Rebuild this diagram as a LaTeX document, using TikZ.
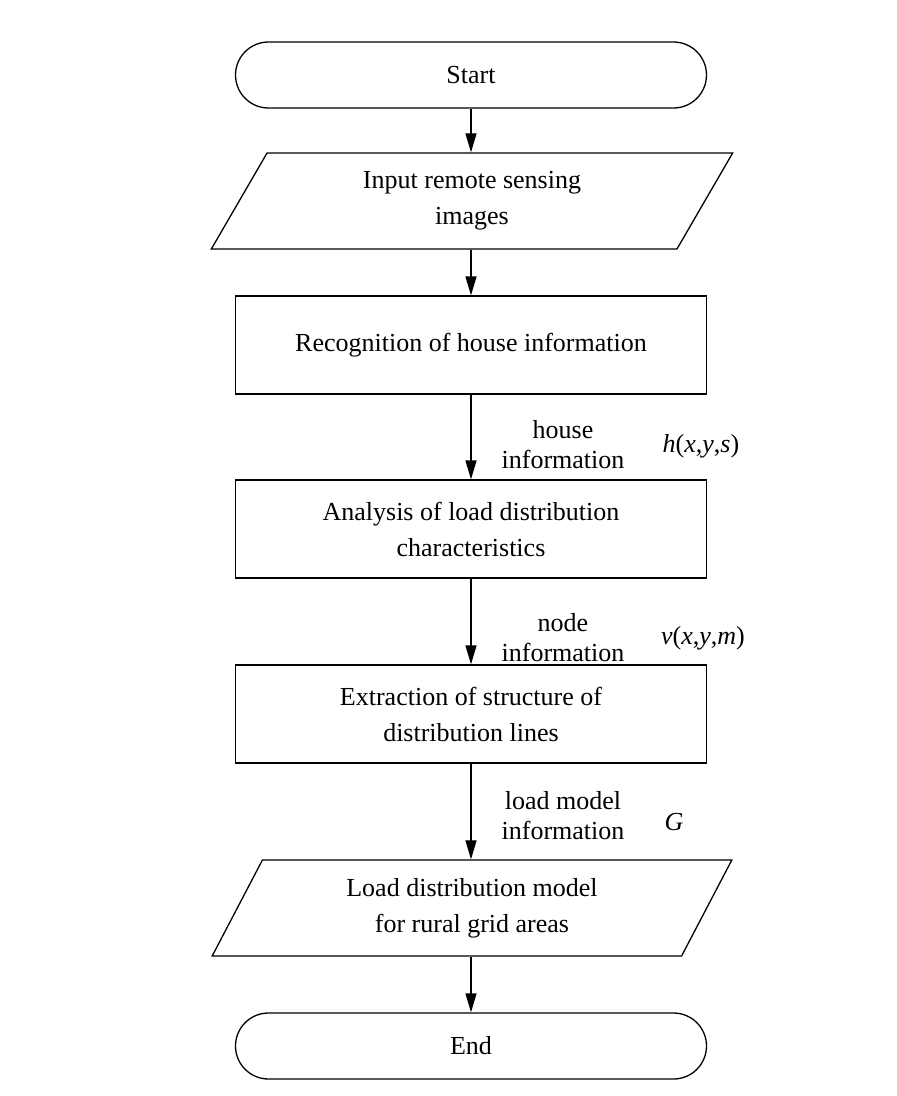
\documentclass[tikz,border=0pt]{standalone}
\usepackage{fontspec}
\setmainfont{Liberation Serif}
\usepackage{tikz}
\usetikzlibrary{arrows.meta}
\usetikzlibrary{shapes.geometric}

\begin{document}
\begin{tikzpicture}[x=1pt, y=-1pt,
      every node/.style={color=black, font=\fontsize{26}{36}\selectfont},
      terminal/.style={draw, line width=1.3pt, rounded corners=33pt, minimum width=471pt, minimum height=66pt},
      process/.style={draw, line width=1.3pt, minimum width=471pt, minimum height=98pt, align=center},
      io/.style={draw, line width=1.3pt, trapezium, trapezium left angle=65, trapezium right angle=115,
                 trapezium stretches=true, minimum width=522pt, minimum height=96pt, align=center},
      flow/.style={line width=1.3pt, -{Triangle[length=19pt,width=11pt]}},
      note/.style={font=\fontsize{26}{30}\selectfont, align=center}
      ]
      \useasboundingbox (0,0) rectangle (897,1096);

      % blocks
      \node[terminal] (Start) at (471,75) {Start};
      \node[io] (Input) at (472,201) {Input remote sensing\\images};
      \node[process] (Recog) at (471,345) {Recognition of house information};
      \node[process] (Analysis) at (471,529) {Analysis of load distribution\\characteristics};
      \node[process] (Extract) at (471,714) {Extraction of structure of\\distribution lines};
      \node[io] (Model) at (472,908) {Load distribution model\\for rural grid areas};
      \node[terminal] (End) at (471,1046) {End};

      % connectors
      \draw[flow] (Start) -- (Start |- Input.north);
      \draw[flow] (Input.south -| Start) -- (Recog);
      \draw[flow] (Recog) -- (Analysis);
      \draw[flow] (Analysis) -- (Extract);
      \draw[flow] (Extract) -- (Extract |- Model.north);
      \draw[flow] (Model.south -| End) -- (End);

      % data passed along
      \node[note] (HouseInfo) at (563,445) {house\\information};
      \node[note] (HouseVar) at (701,446) {\textit{h}(\textit{x},\textit{y},\textit{s})};
      \node[note] (NodeInfo) at (563,638) {node\\information};
      \node[note] (NodeVar) at (703,638) {\textit{v}(\textit{x},\textit{y},\textit{m})};
      \node[note] (ModelInfo) at (563,816) {load model\\information};
      \node[note] (ModelVar) at (674,822) {\textit{G}};
    \end{tikzpicture}
\end{document}
